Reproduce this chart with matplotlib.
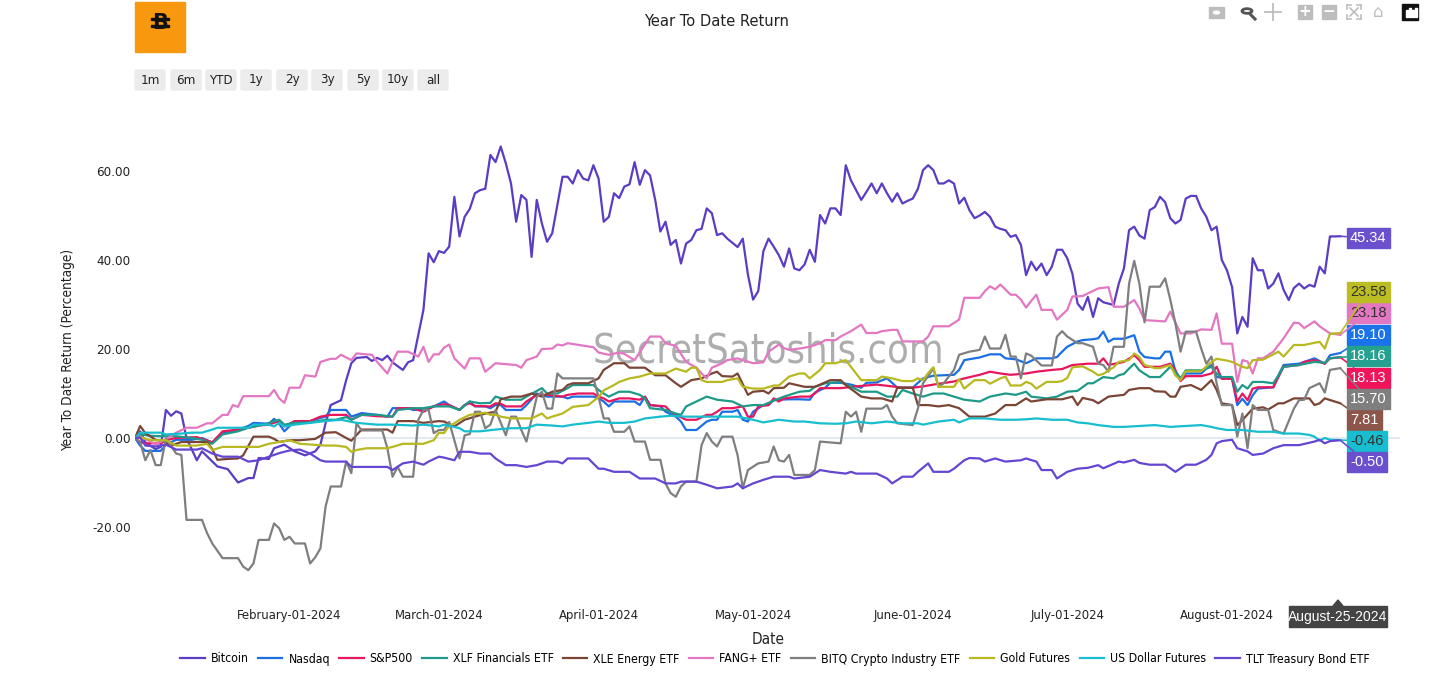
import numpy as np
import matplotlib
matplotlib.use("Agg")
import matplotlib.pyplot as plt
import matplotlib.dates as mdates
from matplotlib import font_manager
from matplotlib.patches import Rectangle, FancyBboxPatch, Polygon, Circle
from matplotlib.lines import Line2D

# ---------------------------------------------------------------- dati
# giorni dal 1 gennaio 2024, valori = rendimento da inizio anno (%)
btc_days = [1, 2, 3, 5, 6, 7, 8, 9, 10, 11, 13, 14, 17, 19, 21, 23, 24, 25, 27, 28, 30, 32, 34, 36, 37, 38,
            39, 41, 42, 43, 44, 46, 47, 48, 49, 50, 51, 53, 54, 55, 57, 58, 59, 60, 61, 62, 63, 64, 65, 66,
            67, 68, 69, 70, 71, 72, 73, 74, 75, 76, 77, 78, 79, 80, 81, 82, 84, 85, 86, 87, 88, 89, 90, 91,
            92, 93, 94, 95, 96, 97, 98, 99, 100, 101, 102, 103, 104, 105, 106, 107, 108, 109, 110, 111, 112,
            113, 114, 115, 116, 118, 119, 120, 121, 122, 123, 124, 125, 126, 127, 128, 129, 130, 131, 132,
            133, 134, 135, 136, 137, 138, 139, 140, 142, 143, 144, 145, 146, 147, 148, 149, 150, 151, 152,
            153, 154, 155, 156, 157, 158, 159, 160, 161, 162, 163, 164, 165, 166, 167, 168, 169, 170, 171,
            172, 173, 174, 175, 176, 177, 178, 179, 180, 181, 182, 183, 184, 185, 186, 187, 188, 189, 191,
            192, 193, 194, 195, 196, 197, 198, 199, 200, 201, 202, 203, 204, 205, 206, 207, 208, 209, 210,
            211, 212, 213, 214, 215, 216, 217, 218, 219, 220, 221, 222, 223, 224, 225, 226, 227, 228, 229,
            230, 231, 232, 233, 234, 235]
btc_vals = [0, 1.5, -1, -2.5, -2, 6.3, 5, 6, 5.5, 0, -5, -3, -6.4, -7, -10, -9, -9, -4.5, -4.7, -2.3, -1.5, -3,
            -3.9, -3, -1.5, 3.3, 7.4, 8.5, 13, 16.8, 18, 18.2, 17.3, 18, 17.5, 18.5, 17, 15.3, 17, 17.5, 28.8,
            41.5, 39.5, 42, 41.6, 43, 54.2, 45.3, 49.7, 51.5, 55, 55.7, 56, 63.6, 62, 65.5, 61.7, 57.2, 48.6,
            54.6, 53.5, 40.7, 53.5, 48.2, 44.1, 46, 58.7, 58.7, 57.2, 60.2, 58.3, 57.9, 61.3, 58.3, 48.6, 49.7,
            55, 53.9, 56.5, 57, 62, 56.9, 60.2, 59, 53.5, 46.4, 48.6, 43.4, 44.5, 39.2, 43.7, 44.5, 46.7, 47,
            51.6, 50.5, 45.6, 46, 44.8, 42.9, 44.8, 36.7, 31.1, 33, 42, 44.8, 43, 41.1, 38.5, 42.6, 38.1, 37.7,
            39, 42.3, 39.6, 50.1, 48.2, 51.6, 51.6, 50.1, 61.3, 57.9, 53.5, 55.3, 57.2, 55, 57.2, 55, 53.1, 55,
            52.7, 53.3, 53.8, 56, 60.2, 61.3, 60.2, 57.2, 57.2, 57.9, 57.2, 52.7, 54, 51.2, 49.4, 50, 50.8,
            49.7, 47.5, 47, 46.7, 45.2, 45.6, 43.4, 36.6, 39.6, 37.7, 39.2, 36.6, 38.5, 42.3, 42.3, 40.4, 36.9,
            30.2, 28.8, 31.7, 27.2, 31.4, 30.5, 29.9, 34.7, 38.1, 46.7, 47.5, 45.5, 44.8, 51.2, 51.9, 54.2, 53,
            49.4, 48.2, 49, 53.8, 54.4, 54.4, 51.6, 49.7, 46.7, 47.5, 40, 37.7, 33.9, 23.5, 27.2, 25, 40.4,
            37.7, 37.7, 33.6, 34.7, 37, 33.3, 31, 33.7, 34.7, 33.6, 34.4, 34, 38.5, 37, 45.3, 45.3, 45.34]

ndx_days = [1, 2, 3, 6, 7, 9, 12, 14, 16, 18, 20, 21, 23, 24, 27, 28, 29, 30, 32, 35, 37, 38, 39, 42, 43, 45,
            48, 50, 51, 54, 55, 57, 59, 61, 62, 64, 65, 66, 67, 69, 70, 71, 72, 73, 76, 77, 79, 81, 84, 85, 86,
            88, 90, 91, 92, 93, 94, 96, 98, 99, 100, 101, 103, 104, 106, 107, 108, 110, 112, 113, 114, 115,
            117, 118, 119, 120, 121, 123, 124, 125, 126, 128, 130, 132, 133, 135, 136, 138, 140, 142, 143,
            145, 147, 148, 149, 152, 153, 154, 156, 158, 160, 161, 162, 165, 167, 169, 170, 172, 174, 176,
            179, 180, 181, 182, 184, 185, 187, 188, 189, 190, 191, 193, 195, 196, 197, 199, 200, 201, 202,
            203, 204, 205, 208, 209, 210, 211, 214, 215, 216, 217, 218, 219, 222, 223, 224, 227, 228, 230,
            231, 232, 233, 235]
ndx_vals = [0, -1.7, -2.9, -2.9, -1.5, -0.4, -0.4, 0, -1, 1.1, 1.5, 1.9, 2.7, 3.4, 3.2, 4.3, 3.2, 1.5, 3.8,
            3.8, 4.5, 4.8, 6.3, 6.3, 4.8, 5.6, 5.2, 4.8, 6.7, 6.7, 6.3, 6.3, 7.1, 8.2, 7.4, 6.3, 7.4, 8.2, 7.1,
            7.1, 6.7, 7.4, 7.4, 6.3, 6.3, 7.4, 10, 9.3, 9.3, 8.9, 9.3, 9.3, 9.3, 8.9, 8.2, 7.1, 8.2, 8.2, 8.2,
            7.4, 9.3, 7.4, 7.1, 5.9, 4.8, 3.7, 1.8, 1.8, 3.7, 4.1, 4.1, 5.9, 5.9, 6.3, 4.1, 3.7, 5.9, 7.4, 7.4,
            8.5, 8.6, 8.7, 8.7, 8.6, 10.2, 11.3, 12.4, 12.4, 12, 11.3, 12.4, 12.5, 13.4, 12.4, 11.3, 11.3,
            12.4, 13.4, 14, 14.1, 14.2, 15.3, 17.5, 18.1, 18.8, 18.8, 17.9, 17.7, 16.8, 17.9, 17.9, 18.2,
            19.4, 20.5, 21.7, 22, 22.2, 22.4, 23.9, 21.6, 22.3, 22.3, 23.1, 19.4, 18.2, 17.9, 17.9, 19.4,
            19.4, 15, 13, 14.5, 14.5, 15.6, 16.4, 13.7, 13.3, 7.4, 8.8, 7.4, 9.6, 11.1, 11.4, 14.1, 16.4, 16.7,
            17.1, 17.9, 17.3, 16.7, 18.6, 19.1]

spx_days = [1, 2, 3, 6, 7, 9, 13, 14, 16, 18, 21, 23, 25, 27, 29, 30, 32, 35, 37, 39, 42, 43, 45, 48, 51, 52,
            55, 57, 59, 61, 62, 64, 65, 66, 67, 70, 71, 72, 73, 76, 77, 79, 81, 84, 85, 87, 90, 91, 92, 93,
            95, 97, 99, 100, 101, 104, 105, 106, 108, 110, 112, 113, 114, 115, 117, 119, 120, 121, 122, 124,
            125, 126, 127, 130, 132, 133, 134, 138, 141, 145, 148, 150, 152, 154, 156, 160, 162, 165, 167,
            169, 171, 174, 176, 179, 181, 183, 186, 188, 189, 190, 193, 195, 196, 197, 200, 202, 203, 204,
            205, 208, 210, 211, 212, 214, 215, 216, 217, 218, 219, 222, 223, 224, 227, 228, 230, 232, 233,
            235]
spx_vals = [0, -0.9, -1.2, -1.2, -0.5, 0, 0.2, -0.2, -1, 1.5, 1.9, 2.3, 2.8, 3, 3.8, 2.6, 3.8, 3.8, 4.8, 5.2,
            5.2, 4.1, 5.2, 4.9, 4.8, 6.7, 6.7, 5.9, 7.1, 7.6, 7.4, 6.3, 7.4, 7.8, 7.2, 7.1, 7.8, 7.7, 7.1, 7.1,
            8.2, 9.7, 9.7, 9.3, 9.7, 10, 10, 9.3, 8.9, 8.2, 8.9, 8.9, 8.6, 9.3, 7.4, 7.1, 5.9, 5.2, 4.1, 4.1,
            5.2, 5.2, 5.9, 6.7, 6.7, 7.1, 4.8, 4.8, 7.1, 7.4, 8.9, 8.2, 8.9, 9.3, 9.3, 10, 11.2, 11.2, 11.6,
            12, 11.6, 11.3, 11.3, 11.6, 12, 12.7, 13.4, 14.2, 14.9, 14.5, 14.2, 14.5, 14.9, 15.3, 15.5, 16.4,
            16.7, 16.7, 17.9, 16.4, 17.1, 18.6, 17.5, 16, 16, 16.7, 15.2, 12.8, 13.9, 13.9, 14.5, 16, 13.3,
            13.3, 8.2, 10, 8.5, 11.1, 11.4, 11.4, 13.7, 16, 16.4, 17.1, 17.5, 16.7, 17.9, 18.13]

xlf_days = [1, 2, 4, 6, 9, 12, 14, 16, 18, 21, 23, 26, 27, 29, 30, 32, 35, 38, 40, 42, 43, 45, 48, 51, 52, 55,
            57, 59, 61, 62, 64, 66, 68, 70, 71, 73, 76, 77, 80, 81, 83, 85, 86, 90, 91, 92, 93, 95, 97, 99,
            100, 101, 104, 106, 107, 108, 110, 112, 114, 117, 119, 121, 123, 125, 127, 130, 132, 133, 135,
            138, 140, 142, 145, 147, 149, 150, 152, 154, 156, 158, 160, 162, 165, 167, 170, 172, 174, 175,
            178, 180, 182, 184, 186, 187, 189, 191, 192, 193, 194, 195, 196, 198, 200, 202, 203, 204, 205,
            208, 210, 211, 212, 214, 215, 216, 217, 218, 220, 222, 223, 224, 227, 230, 232, 233, 235]
xlf_vals = [0, 0.8, 0.5, 0.4, 0.4, 0, -0.4, -1.3, 0.8, 1.5, 2.3, 3, 3.4, 4.1, 3, 3.4, 3.5, 4.1, 4.1, 4.7, 4.1,
            5.2, 5.2, 4.8, 6.3, 6.7, 6.7, 7.1, 7.1, 7.1, 6.3, 8.2, 7.8, 7.9, 9.3, 8.6, 8.6, 9.3, 11.2, 10, 10,
            11.2, 11.9, 11.9, 10.8, 10, 9.3, 10.4, 10.4, 9.7, 8.9, 6.7, 6.3, 5.5, 5.2, 7.1, 8.2, 9.3, 8.6, 8.2,
            7.1, 7.4, 7.4, 8.4, 9.3, 10.4, 10.6, 11.5, 12.3, 12.6, 11.5, 10.4, 10.4, 9.3, 9.3, 10.8, 10, 9.3,
            10, 10, 9.3, 8.6, 8.2, 9.3, 10, 9.7, 10.4, 9.3, 8.9, 9.3, 10.4, 10.6, 12.3, 12.3, 13.7, 13.4,
            14.1, 14.4, 15.6, 16.7, 15.2, 13.7, 13.7, 16, 14.9, 13.4, 15.2, 15.2, 16, 14.5, 13.7, 13.7, 10.4,
            11.9, 11.1, 12.6, 12.6, 12.3, 14.1, 16, 16.4, 17.1, 16.9, 17.9, 18.16]

xle_days = [1, 2, 3, 5, 7, 8, 10, 12, 15, 16, 17, 19, 21, 22, 24, 27, 28, 29, 31, 33, 36, 38, 40, 42, 43, 45,
            48, 50, 51, 52, 55, 57, 60, 61, 63, 65, 67, 69, 71, 72, 74, 76, 78, 80, 82, 84, 85, 86, 89, 91,
            92, 94, 96, 97, 100, 102, 104, 106, 107, 109, 111, 113, 114, 115, 117, 118, 120, 121, 123, 124,
            125, 127, 128, 131, 133, 136, 138, 139, 142, 144, 146, 148, 149, 152, 153, 155, 157, 159, 161,
            163, 166, 168, 170, 172, 174, 175, 178, 181, 183, 184, 185, 187, 188, 190, 193, 194, 196, 198,
            199, 201, 202, 203, 204, 206, 208, 210, 211, 212, 214, 215, 216, 218, 220, 221, 223, 224, 226,
            229, 230, 231, 232, 235]
xle_vals = [0, 2.7, 1.1, -0.4, -0.9, -1.7, -0.9, -0.9, -0.9, -2.5, -4.9, -4.7, -4.6, -3.9, 0.3, 0.3, -0.2,
            -0.9, -0.5, -0.5, -0.2, 1.2, 1.3, 0, -0.6, 1.9, 1.9, 1.9, 1.2, 3.8, 3.8, 3.4, 3.8, 3.7, 2.6, 4.1,
            4.8, 5.5, 5.9, 8.7, 9.3, 9.3, 10, 9.3, 10.4, 10.8, 11.9, 12.3, 12.3, 13.4, 15.3, 16.8, 16.8, 15.8,
            15.8, 14.1, 14.1, 12.3, 11.5, 13, 13.4, 14.5, 14.9, 13.9, 13.8, 14.5, 9.7, 10.4, 10.6, 10, 11.2,
            11.3, 12.3, 11.5, 11.5, 13, 13, 11.9, 9.3, 8.9, 8.9, 8.2, 11.3, 11.3, 7.4, 7.4, 7.1, 7.4, 6.7, 4.8,
            4.8, 5.5, 7.4, 7.4, 8.9, 8.2, 8.7, 8.7, 9.3, 7.4, 9.0, 8.5, 7.8, 9.3, 9.7, 10.8, 11.2, 11.2, 10.5,
            10.4, 9.3, 9.3, 11.5, 11.9, 10.8, 13, 10.8, 7.8, 7.4, 2.9, 4, 6.6, 6.9, 6.4, 7.8, 7.8, 8.9, 8.9,
            7.4, 7.8, 8.9, 7.81]

fang_days = [1, 2, 4, 5, 7, 9, 11, 13, 15, 16, 18, 19, 20, 21, 22, 27, 28, 29, 30, 31, 33, 34, 36, 37, 39, 40,
             41, 43, 44, 47, 48, 50, 51, 52, 54, 56, 57, 58, 59, 60, 61, 62, 63, 65, 66, 68, 69, 71, 75, 76,
             77, 79, 80, 82, 83, 84, 85, 90, 91, 93, 95, 96, 98, 101, 103, 104, 106, 108, 110, 111, 112, 113,
             115, 116, 118, 119, 121, 123, 124, 126, 127, 128, 130, 132, 134, 135, 137, 138, 140, 142, 143,
             145, 146, 148, 149, 150, 154, 155, 156, 159, 161, 162, 165, 166, 167, 168, 169, 171, 172, 173,
             174, 175, 176, 177, 179, 180, 182, 183, 185, 186, 188, 190, 191, 193, 195, 196, 197, 201, 202,
             204, 206, 208, 210, 211, 212, 214, 215, 216, 217, 218, 219, 220, 222, 224, 226, 227, 228, 230,
             231, 233, 235]
fang_vals = [0, 0.3, -0.8, -1.4, -0.3, 1.2, 2.3, 2.3, 3.3, 3.3, 5.2, 5.2, 7.4, 7, 9.4, 9.4, 10.8, 8.9, 7.9,
             11.3, 11.3, 14.1, 13.8, 17.1, 17.8, 17.8, 18.7, 17.5, 19, 18.7, 17.1, 14.5, 17.1, 19.4, 19.4, 18.3,
             20.5, 17.1, 18.8, 18.8, 20.3, 21, 17.9, 15.6, 17.9, 17.9, 14.9, 16.8, 16.4, 15.8, 17.5, 18.3, 20,
             20.1, 21, 20.8, 21.3, 20.4, 19.2, 18.7, 19.2, 18.9, 17.5, 22.8, 22.8, 21.3, 20.7, 17.1, 15.8, 14.5,
             13.4, 15.8, 16.8, 17.5, 17.9, 17.5, 16.8, 17, 19.4, 21, 20.2, 19.8, 20.1, 20.5, 21.3, 22, 22, 22.8,
             24, 25.5, 23.6, 23.6, 24, 24.3, 24.3, 21.7, 21.7, 22.8, 25.1, 25.1, 26.6, 31.5, 31.5, 33, 34.1,
             33.4, 34.5, 32.2, 32.2, 31.1, 29.3, 30.8, 32.2, 28.8, 28.8, 26.6, 28.8, 31.8, 31.9, 32.5, 33.6,
             33.9, 29.5, 29.5, 31, 29.1, 26.5, 26.2, 28.4, 23.5, 23.5, 24.4, 24.3, 28, 21.2, 21.2, 12.6, 17.5,
             17.2, 14.5, 17.9, 17.9, 19.4, 22.4, 25.9, 25.8, 24.7, 26.2, 25.1, 23.5, 23.18]

bitq_days = [1, 2, 3, 4, 5, 6, 7, 9, 10, 11, 14, 15, 16, 18, 21, 22, 23, 24, 25, 27, 28, 29, 30, 31, 32, 34,
             35, 36, 37, 38, 39, 41, 42, 43, 44, 45, 49, 50, 51, 52, 53, 55, 56, 57, 58, 59, 60, 61, 62, 64,
             65, 66, 67, 68, 69, 70, 71, 73, 74, 75, 76, 77, 79, 80, 81, 82, 83, 84, 90, 91, 92, 93, 94, 96,
             97, 98, 100, 101, 103, 104, 105, 106, 107, 108, 110, 111, 112, 113, 114, 115, 117, 118, 119, 120,
             122, 123, 124, 125, 126, 127, 128, 129, 132, 133, 134, 136, 138, 139, 140, 141, 142, 143, 146,
             147, 148, 149, 152, 153, 154, 156, 157, 158, 159, 160, 161, 163, 165, 166, 167, 169, 170, 171,
             172, 173, 174, 175, 177, 179, 180, 181, 182, 184, 185, 187, 188, 189, 190, 191, 193, 194, 195,
             196, 197, 198, 200, 201, 202, 203, 204, 205, 207, 208, 209, 210, 211, 212, 214, 215, 216, 217,
             218, 219, 221, 222, 224, 226, 227, 228, 229, 231, 232, 233, 235]
bitq_vals = [0, -0.9, -5, -2.7, -6.1, -6.1, -0.1, -3.5, -3.8, -18.4, -18.4, -21.4, -23.7, -27, -27, -28.9,
             -29.7, -28.2, -22.9, -22.9, -19.2, -20.3, -22.9, -22.2, -23.7, -23.7, -28.2, -26.8, -24.8, -15.4,
             -10.9, -10.9, -5.3, -7.9, 3.3, 1.7, 1.7, -2.3, -8.7, -6.5, -8.7, -8.7, 4.1, 6.3, 6.3, 1.1, 1.8,
             1.8, 3.6, -4.6, 0.6, 0.9, 5.9, 5.9, 2.2, 3, 6.3, 0.6, 4.8, 4.8, 1.8, -0.8, 9.2, 10.4, 6.6, 6.6,
             14.5, 13.4, 13.4, 9.2, 4.4, 4.4, 1.4, 1.4, 2.6, -0.8, -0.8, -4.9, -4.9, -10.2, -12.4, -13.2,
             -10.9, -9.8, -9.8, -1.6, 1.1, -0.8, -1.9, 0.3, 0.3, -3.9, -11.3, -7.2, -5.7, -5.5, -5.3, -1.9, -5,
             -5.3, -3.8, -8.3, -8.3, -7.2, -0.8, -1, -1.2, 5.9, 4.8, 5.9, 1.4, 6.6, 6.6, 7.4, 4.8, 3.3, 2.9,
             6.6, 12.3, 15.6, 11.5, 12.3, 13.8, 15.3, 18.7, 19.4, 19.8, 22.8, 20.1, 20.1, 23.2, 18.3, 18.3,
             13.4, 19, 18.5, 16.3, 16.3, 22.8, 24, 22.8, 21.3, 21.3, 20.5, 16.7, 16.4, 14.9, 20.5, 20.5, 34.7,
             39.8, 34.7, 26, 34, 34, 35.9, 31.1, 25.7, 19.4, 23.9, 23.9, 20.1, 16.7, 18.3, 12.3, 7.4, 7.4, 0.3,
             5.5, -2.3, 7.4, 6.3, 6.3, 1.8, 1, 6.6, 8.5, 8.6, 11.2, 12.3, 10.2, 15.3, 15.7]

gold_days = [1, 2, 4, 7, 9, 13, 15, 16, 18, 22, 25, 27, 29, 31, 33, 38, 40, 42, 43, 44, 46, 50, 51, 53, 57,
             59, 60, 61, 62, 63, 64, 66, 68, 69, 70, 71, 72, 74, 78, 80, 81, 82, 84, 86, 89, 91, 92, 94, 95,
             97, 99, 101, 104, 106, 108, 109, 110, 111, 112, 115, 116, 118, 119, 121, 123, 125, 126, 128, 130,
             131, 132, 134, 135, 137, 139, 140, 142, 145, 146, 148, 150, 152, 153, 154, 155, 156, 157, 160,
             161, 162, 164, 166, 167, 169, 170, 171, 173, 174, 175, 176, 178, 180, 181, 182, 183, 185, 186,
             187, 188, 189, 191, 192, 194, 195, 196, 197, 199, 200, 202, 203, 204, 205, 208, 210, 211, 213,
             214, 216, 217, 218, 220, 223, 224, 226, 228, 230, 231, 232, 233, 235]
gold_vals = [0, 0.2, -0.5, -0.5, -1.7, -1.7, -1.3, -2.7, -2, -2, -2, -1.3, -0.9, -0.5, -1.3, -1.7, -1.7, -2,
             -3.1, -2.7, -2.3, -2.3, -2, -1.3, -1.3, -0.5, 1.2, 1.1, 2.7, 3.3, 4.1, 5.2, 5.5, 5.7, 5.2, 5.2,
             4.8, 4.4, 4.4, 5.5, 4.4, 4.8, 5.5, 7, 7.4, 9.2, 10.7, 11.9, 12.6, 13.4, 13.8, 14.5, 14.5, 15.6,
             14.9, 15.8, 15.8, 13, 12.6, 12.6, 13, 13.4, 11.5, 11.1, 11.1, 11.8, 11.8, 13.8, 14.5, 14.5, 13.4,
             15.3, 16.8, 16.8, 17.5, 16, 13, 13, 13.8, 13.4, 12.8, 12.8, 13.4, 13, 14.6, 15.9, 11.5, 11.5, 13.2,
             11.1, 13, 13, 12.2, 13.4, 13.8, 11.8, 11.8, 12.6, 12.2, 11.1, 12.6, 12.6, 12.8, 13.5, 15.9, 16.1,
             15.5, 14.9, 14.1, 14.4, 15.9, 17.1, 17.5, 19, 18.2, 16.4, 15.7, 15.7, 16.4, 14.1, 13, 15, 15, 17.1,
             17.8, 17.4, 17.1, 16, 15.7, 17.5, 17.6, 19.4, 18.3, 20.9, 20.9, 21.4, 21.6, 20.1, 23.4, 23.58]

usd_days = [1, 2, 4, 6, 7, 10, 12, 14, 16, 17, 21, 23, 24, 27, 28, 29, 30, 32, 35, 38, 41, 44, 48, 51, 55,
            57, 60, 61, 64, 65, 68, 71, 74, 77, 79, 82, 84, 86, 89, 91, 93, 96, 98, 100, 103, 105, 108, 113,
            118, 121, 123, 126, 129, 131, 134, 137, 139, 141, 144, 147, 150, 153, 154, 157, 160, 161, 163,
            166, 169, 172, 174, 176, 179, 182, 184, 186, 188, 191, 193, 196, 199, 202, 205, 208, 210, 211,
            213, 216, 219, 222, 224, 227, 229, 230, 231, 232, 233, 235]
usd_vals = [0, 1.2, 1.2, 1.2, 0.8, 1, 1.2, 1.2, 1.9, 2.3, 2.3, 2.3, 3, 3, 2.6, 3.4, 2.6, 3, 3.4, 3.8, 4.1,
            3.4, 3, 3, 2.8, 3, 2.6, 3, 2.2, 1.5, 1.5, 1.9, 2.2, 2.2, 3, 2.8, 2.6, 3, 3.4, 3.7, 3.4, 3.4, 3.7,
            4.4, 4.8, 5, 4.8, 4.8, 4.8, 4.1, 3.5, 4.1, 3.7, 3.7, 3.3, 3.2, 3.3, 3.7, 3.3, 3.7, 3.3, 3.3, 3,
            3.7, 4.1, 3.5, 4.4, 4.4, 4.1, 4.1, 4.2, 4.4, 4.1, 4.1, 3.5, 3.3, 2.9, 2.5, 2.5, 2.7, 2.9, 2.5,
            2.7, 2.9, 2.5, 2.2, 1.8, 1.8, 1.4, 1.4, 1, 1, 0.7, 0.3, -0.6, 0, -0.4, -0.46]

tlt_days = [1, 2, 3, 5, 7, 9, 11, 13, 14, 16, 18, 21, 23, 25, 27, 29, 31, 33, 35, 37, 38, 42, 43, 48, 50,
            51, 53, 55, 57, 58, 60, 61, 63, 64, 66, 68, 70, 71, 73, 75, 77, 79, 81, 83, 84, 85, 89, 91, 92,
            94, 97, 99, 102, 104, 106, 107, 110, 112, 114, 117, 118, 119, 121, 123, 125, 126, 128, 129, 132,
            134, 136, 139, 140, 141, 145, 147, 148, 150, 152, 153, 155, 156, 159, 160, 162, 163, 165, 166,
            168, 170, 173, 174, 176, 177, 179, 180, 182, 184, 186, 188, 189, 192, 193, 195, 196, 198, 201,
            203, 205, 207, 209, 210, 211, 212, 214, 215, 217, 218, 220, 222, 224, 227, 230, 231, 232, 233,
            235]
tlt_vals = [0, 0.1, -1.7, -1.9, -1.5, -2.6, -2.6, -2.6, -2.3, -3.5, -4.2, -4.2, -5.3, -5, -4.2, -3.4, -2.8,
            -2.6, -3.5, -5, -5.3, -5.3, -6.5, -6.5, -6.5, -7.2, -5.7, -5.3, -6, -5.3, -4.2, -4.4, -5, -3.1,
            -3.1, -3.5, -3.5, -4.6, -6.1, -6.1, -6.5, -6.1, -5.3, -5.3, -5.7, -4.6, -4.6, -6.9, -6.9, -7.6,
            -7.6, -9.1, -9.1, -10.2, -10.2, -9.8, -9.8, -10.5, -11.3, -10.9, -10.2, -11.3, -10.2, -9.4, -8.7,
            -8.7, -8.7, -9.1, -8.7, -7.2, -7.6, -8, -7.6, -8, -8, -9.1, -10.2, -8.7, -8.7, -7.6, -5.7, -7.6,
            -7.6, -6.9, -5, -4.5, -4.6, -5.3, -4.6, -5.3, -5, -4.6, -5.3, -7.2, -7.2, -9.1, -7.6, -6.9, -6.7,
            -6.1, -6.8, -5.3, -5.5, -4.9, -5.6, -6, -6, -7.6, -6, -6, -4.9, -3.8, -1.2, -0.7, -0.4, -2.3, -3,
            -3.8, -3.5, -2.3, -1.6, -1.6, -0.8, -0.4, -1.2, -0.7, -0.5]

nomi = ["Bitcoin", "Nasdaq", "S&P500", "XLF Financials ETF", "XLE Energy ETF", "FANG+ ETF",
        "BITQ Crypto Industry ETF", "Gold Futures", "US Dollar Futures", "TLT Treasury Bond ETF"]
serie_giorni = [btc_days, ndx_days, spx_days, xlf_days, xle_days, fang_days, bitq_days, gold_days,
                usd_days, tlt_days]
serie_valori = [btc_vals, ndx_vals, spx_vals, xlf_vals, xle_vals, fang_vals, bitq_vals, gold_vals,
                usd_vals, tlt_vals]
etichette_fine = ["45.34", "19.10", "18.13", "18.16", "7.81", "23.18", "15.70", "23.58", "-0.46", "-0.50"]
tick_date = ["2024-02-01", "2024-03-01", "2024-04-01", "2024-05-01", "2024-06-01", "2024-07-01", "2024-08-01"]
tick_y = [-20, 0, 20, 40, 60]
pulsanti = ["1m", "6m", "YTD", "1y", "2y", "3y", "5y", "10y", "all"]

# ---------------------------------------------------------------- stile
COLORI = ["#5b3cc4", "#1a6fe3", "#e8175d", "#1e9a88", "#7b4535", "#e377c2", "#7f7f7f", "#b8b820",
          "#17becf", "#6546d2"]
COLORI_BOX = ["#6a50cc", "#1a73e8", "#f0145a", "#26a08f", "#8c564b", "#e377c2", "#7f7f7f", "#bcbd22",
              "#17becf", "#6a50cc"]
TESTO_BOX = ["white", "white", "white", "white", "white", "#333333", "white", "#333333", "#333333", "white"]
# posizione verticale delle etichette finali (pixel del riferimento), scalate per non sovrapporsi
Y_ETICHETTE_PX = [238, 335, 378, 356, 420, 313, 399, 292, 441, 462]

# font stretto, se c'e' la variante condensed di DejaVu
condensato = any(f.name == "DejaVu Sans" and f.stretch == "condensed"
                 for f in font_manager.fontManager.ttflist)
if condensato:
    plt.rcParams["font.family"] = ["DejaVu Sans"]
    plt.rcParams["font.stretch"] = "condensed"
    SCALA = 1.0
else:
    plt.rcParams["font.family"] = ["Roboto", "DejaVu Sans"]
    SCALA = 0.95
ARIAL = ["Liberation Sans", "DejaVu Sans"]

W, H = 1456, 675
ORIGINE = np.datetime64("2024-01-01")


def fx(x):
    return x / W


def fy(y):
    return 1 - y / H


def valore_da_px(y):
    return (438 - y) / 4.45


def giorno_da_px(x):
    return (x - 130) / 5.15


def come_data(giorni):
    return ORIGINE + (np.array(giorni, dtype=float) * 86400).astype("timedelta64[s]")


fig = plt.figure(figsize=(W / 100, H / 100), dpi=100)
fig.patch.set_facecolor("white")
ax = fig.add_axes([fx(135), fy(595), fx(1400) - fx(135), (595 - 125) / H])

ax.axhline(0, color="#dde5ee", linewidth=1.2, zorder=0)
for giorni, valori, colore, nome in zip(serie_giorni, serie_valori, COLORI, nomi):
    ax.plot(come_data(giorni), valori, color=colore, linewidth=1.6, label=nome, zorder=3)

ax.set_xlim(come_data([1])[0], come_data([246.6])[0])
ax.set_ylim(valore_da_px(595), valore_da_px(125))
for s in ax.spines.values():
    s.set_visible(False)

ax.set_xticks([np.datetime64(d) for d in tick_date])
ax.xaxis.set_major_formatter(mdates.DateFormatter("%B-%d-%Y"))
ax.set_yticks(tick_y)
ax.set_yticklabels([f"{v:.2f}" for v in tick_y])
ax.tick_params(axis="x", length=0, pad=10, labelsize=9.4 * SCALA, labelcolor="#222222")
ax.tick_params(axis="y", length=0, pad=3, labelsize=9.6 * SCALA, labelcolor="#222222")

# watermark sotto le linee
ax.text(fx(768), fy(352), "SecretSatoshis.com", transform=fig.transFigure, ha="center", va="center",
        fontsize=28.5 * SCALA, color="#adadad", zorder=1)

# etichette finali colorate
for giorni, valori, colore, box, testo, txt, ypx in zip(serie_giorni, serie_valori, COLORI, COLORI_BOX,
                                                       TESTO_BOX, etichette_fine, Y_ETICHETTE_PX):
    ax.annotate(txt, xy=(come_data([giorni[-1]])[0], valori[-1]),
                xytext=(come_data([giorno_da_px(1350)])[0], valore_da_px(ypx)),
                textcoords="data", ha="left", va="center", fontsize=10.5, color=testo, zorder=6,
                family=ARIAL, fontstretch="normal",
                bbox=dict(boxstyle="square,pad=0.22", fc=box, ec=box),
                arrowprops=dict(arrowstyle="-", color=box, lw=1.2, shrinkA=0, shrinkB=0))

# titoli e assi
fig.text(fx(716), fy(21), "Year To Date Return", ha="center", va="center", fontsize=11.8 * SCALA, color="#222222")
fig.text(fx(768), fy(640), "Date", ha="center", va="center", fontsize=11 * SCALA, color="#222222")
fig.text(fx(68), fy(350), "Year To Date Return (Percentage)", ha="center", va="center", rotation=90,
         fontsize=9.8 * SCALA, color="#222222")

# etichetta hover della data finale
fig.patches.append(Rectangle((fx(1289), fy(627)), fx(98), 21 / H, transform=fig.transFigure,
                             fc="#444444", ec="#444444", zorder=5))
fig.patches.append(Polygon([[fx(1333), fy(606)], [fx(1343), fy(606)], [fx(1338), fy(600)]],
                           closed=True, transform=fig.transFigure, fc="#444444", ec="#444444"))
fig.text(fx(1338), fy(616.5), "August-25-2024", ha="center", va="center", fontsize=10, color="white",
         family=ARIAL, fontstretch="normal", zorder=8)

# legenda orizzontale
maniglie = [Line2D([0], [0], color=c, linewidth=1.6) for c in COLORI]
fig.legend(maniglie, nomi, loc="center", bbox_to_anchor=(fx(775), fy(659)), ncol=10, frameon=False,
           fontsize=8.8 * SCALA, handlelength=2.0, handletextpad=0.5, columnspacing=0.75)

# logo
fig.patches.append(Rectangle((fx(135), fy(52)), fx(50), 50 / H, transform=fig.transFigure,
                             fc="#f7980f", ec="#f7980f"))
fig.text(fx(160), fy(23), "B", ha="center", va="center", fontsize=15, fontweight="bold",
         color="#111111", fontstretch="normal")
fig.patches.append(Rectangle((fx(151), fy(19.5)), fx(18), 2 / H, transform=fig.transFigure,
                             fc="#111111", ec="#111111"))
fig.patches.append(Rectangle((fx(151), fy(26.5)), fx(18), 2 / H, transform=fig.transFigure,
                             fc="#111111", ec="#111111"))

# pulsanti del selettore di periodo
x0_pulsanti = [135, 171, 206, 241, 277, 312, 348, 383, 418]
for etichetta, x0 in zip(pulsanti, x0_pulsanti):
    larg = 30
    fig.patches.append(FancyBboxPatch((fx(x0), fy(90)), fx(larg), 20 / H, transform=fig.transFigure,
                                      boxstyle="round,pad=0,rounding_size=0.002", fc="#ececec", ec="#ececec"))
    fig.text(fx(x0 + larg / 2), fy(80), etichetta, ha="center", va="center", fontsize=9.5 * SCALA,
             color="#222222")

# icone della barra strumenti (disegnate come forme)
GRIGIO = "#bdbdbd"
fig.patches.append(Rectangle((fx(1209), fy(18)), fx(15), 11 / H, transform=fig.transFigure, fc=GRIGIO, ec=GRIGIO))
fig.patches.append(Circle((fx(1216.5), fy(12.5)), 3 / W, transform=fig.transFigure, fc="white", ec="white"))
fig.patches.append(Circle((fx(1247), fy(11)), 5 / W, transform=fig.transFigure, fc="none", ec="#555555", lw=2))
fig.add_artist(Line2D([fx(1250.5), fx(1255)], [fy(14.5), fy(19)], transform=fig.transFigure,
                      color="#555555", lw=2.2))
fig.add_artist(Line2D([fx(1265), fx(1281)], [fy(12), fy(12)], transform=fig.transFigure, color=GRIGIO, lw=1.3))
fig.add_artist(Line2D([fx(1273), fx(1273)], [fy(4), fy(20)], transform=fig.transFigure, color=GRIGIO, lw=1.3))
for xc, simbolo in [(1305, "+"), (1329, "\u2212")]:
    fig.patches.append(Rectangle((fx(xc - 7), fy(19)), fx(14), 14 / H, transform=fig.transFigure, fc=GRIGIO, ec=GRIGIO))
    fig.text(fx(xc), fy(12), simbolo, ha="center", va="center", fontsize=11, color="white",
             fontweight="bold", fontstretch="normal")
for (x1, y1, x2, y2) in [(1347, 5, 1351, 5), (1347, 5, 1347, 9), (1361, 5, 1357, 5), (1361, 5, 1361, 9),
                         (1347, 19, 1351, 19), (1347, 19, 1347, 15), (1361, 19, 1357, 19), (1361, 19, 1361, 15),
                         (1350, 8, 1358, 16), (1358, 8, 1350, 16)]:
    fig.add_artist(Line2D([fx(x1), fx(x2)], [fy(y1), fy(y2)], transform=fig.transFigure, color=GRIGIO, lw=1.2))
fig.text(fx(1378), fy(12), "\u2302", ha="center", va="center", fontsize=12, color=GRIGIO, fontstretch="normal")
fig.patches.append(Rectangle((fx(1402), fy(20)), fx(16), 16 / H, transform=fig.transFigure, fc="#111111", ec="#111111"))
for i, xb in enumerate([1406, 1409, 1412, 1415]):
    fig.patches.append(Rectangle((fx(xb), fy(17)), fx(1.5), (7 + (i % 2) * 2) / H, transform=fig.transFigure,
                                 fc="white", ec="white"))

fig.savefig("out.png", dpi=100, facecolor="white")
